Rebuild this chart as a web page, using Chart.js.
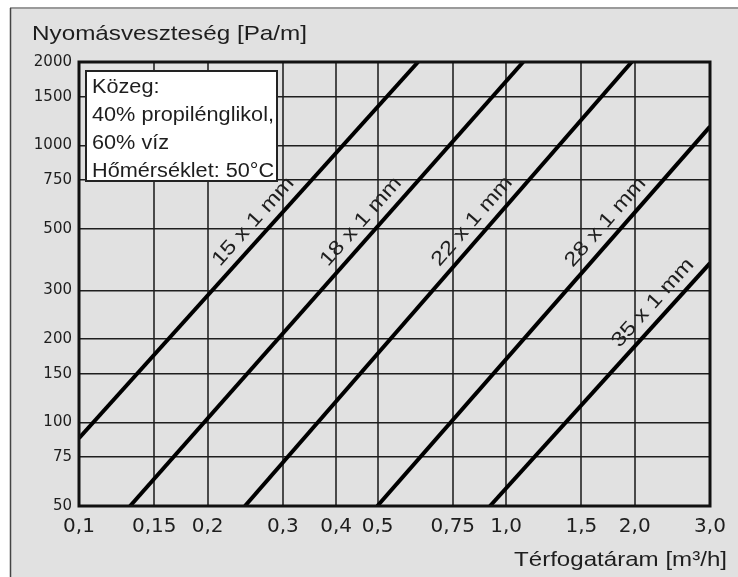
<!DOCTYPE html>
<html><head><meta charset="utf-8">
<script src="https://cdn.jsdelivr.net/npm/chart.js@4/dist/chart.umd.min.js"></script>
<style>html,body{margin:0;padding:0;background:#fff}#wrap{width:738px;height:577px;position:relative}canvas{display:block}</style>
</head><body><div id="wrap"><canvas id="c" width="738" height="577"></canvas></div>
<script>
// ---- data ----
const seriesNames = ['15 x 1 mm', '18 x 1 mm', '22 x 1 mm', '28 x 1 mm', '35 x 1 mm'];
const flow15 = [0.1, 0.622];    const loss15 = [87.8, 2000];
const flow18 = [0.1317, 1.096]; const loss18 = [50, 2000];
const flow22 = [0.2446, 1.967]; const loss22 = [50, 2000];
const flow28 = [0.4993, 3.0];   const loss28 = [50, 1169];
const flow35 = [0.9165, 3.0];   const loss35 = [50, 376];
const xTickValues = [0.1, 0.15, 0.2, 0.3, 0.4, 0.5, 0.75, 1.0, 1.5, 2.0, 3.0];
const xTickLabels = ['0,1', '0,15', '0,2', '0,3', '0,4', '0,5', '0,75', '1,0', '1,5', '2,0', '3,0'];
const yTickValues = [50, 75, 100, 150, 200, 300, 500, 750, 1000, 1500, 2000];
const yTickLabels = ['50', '75', '100', '150', '200', '300', '500', '750', '1000', '1500', '2000'];
const yTitle = 'Nyomásveszteség [Pa/m]';
const xTitle = 'Térfogatáram [m³/h]';
const noteLines = ['Közeg:', '40% propilénglikol,', '60% víz', 'Hőmérséklet: 50°C'];

const flows = [flow15, flow18, flow22, flow28, flow35];
const losses = [loss15, loss18, loss22, loss28, loss35];

const FONT = '"Liberation Sans", Arial, sans-serif';
const TXT = '#1e1e1e';

function stretchedText(ctx, text, x, y, size, targetW, align) {
  ctx.save();
  ctx.font = size + 'px ' + FONT;
  const w = ctx.measureText(text).width;
  const sx = targetW ? targetW / w : 1;
  ctx.translate(x, y);
  ctx.scale(sx, 1);
  ctx.fillStyle = TXT;
  ctx.textBaseline = 'alphabetic';
  ctx.textAlign = 'left';
  ctx.fillText(text, align === 'right' ? -w : 0, 0);
  ctx.restore();
}

const decor = {
  id: 'decor',
  beforeDraw(chart) {
    const ctx = chart.ctx;
    ctx.save();
    ctx.fillStyle = '#ffffff';
    ctx.fillRect(0, 0, chart.width, chart.height);
    ctx.fillStyle = '#e1e1e1';
    ctx.fillRect(10, 8, chart.width - 10, chart.height - 8);
    ctx.strokeStyle = '#9a9a9a';
    ctx.lineWidth = 2;
    ctx.beginPath(); ctx.moveTo(10, 8); ctx.lineTo(chart.width, 8); ctx.stroke();
    ctx.strokeStyle = '#444';
    ctx.lineWidth = 1.5;
    ctx.beginPath(); ctx.moveTo(10.5, 8); ctx.lineTo(10.5, chart.height); ctx.stroke();
    ctx.restore();
  },
  afterDatasetsDraw(chart) {
    const ctx = chart.ctx;
    const a = chart.chartArea;
    // plot frame
    ctx.save();
    ctx.strokeStyle = '#111';
    ctx.lineWidth = 3;
    ctx.strokeRect(a.left, a.top, a.right - a.left, a.bottom - a.top);
    // note box
    ctx.fillStyle = '#ffffff';
    ctx.fillRect(86, 71, 191, 110);
    ctx.strokeStyle = '#222';
    ctx.lineWidth = 2;
    ctx.strokeRect(86, 71, 191, 110);
    ctx.font = '20px ' + FONT;
    const sx = 182 / ctx.measureText(noteLines[1]).width;
    const base = [93, 121, 149, 177];
    noteLines.forEach((t, i) => {
      ctx.save();
      ctx.font = '20px ' + FONT;
      ctx.translate(92, base[i]);
      ctx.scale(sx, 1);
      ctx.fillStyle = TXT;
      ctx.fillText(t, 0, 0);
      ctx.restore();
    });
    // line labels
    const fracs = [0.548, 0.617, 0.618, 0.721, 0.793];
    chart.data.datasets.forEach((ds, i) => {
      const pts = chart.getDatasetMeta(i).data;
      const p0 = pts[0], p1 = pts[1];
      const f = fracs[i];
      const x = p0.x + (p1.x - p0.x) * f;
      const y = p0.y + (p1.y - p0.y) * f;
      const ang = Math.atan2(p1.y - p0.y, p1.x - p0.x);
      ctx.save();
      ctx.translate(x, y);
      ctx.rotate(ang);
      ctx.scale(1.2, 1);
      ctx.font = '20px ' + FONT;
      ctx.fillStyle = TXT;
      ctx.textAlign = 'center';
      ctx.textBaseline = 'alphabetic';
      ctx.fillText(ds.label, 0, -10);
      ctx.restore();
    });
    ctx.restore();
  },
  afterDraw(chart) {
    const ctx = chart.ctx;
    stretchedText(ctx, yTitle, 32, 40, 21, 275, 'left');
    stretchedText(ctx, xTitle, 727, 566, 21, 213, 'right');
  }
};

const datasets = seriesNames.map((name, i) => ({
  label: name,
  data: flows[i].map((q, k) => ({ x: q, y: losses[i][k] })),
  borderColor: '#000',
  borderWidth: 4,
  pointRadius: 0,
  tension: 0,
  fill: false
}));

new Chart(document.getElementById('c'), {
  type: 'line',
  data: { datasets },
  options: {
    responsive: false,
    animation: false,
    devicePixelRatio: 1,
    layout: { padding: { left: 0, top: 62, right: 28, bottom: 0 } },
    plugins: { legend: { display: false }, tooltip: { enabled: false } },
    scales: {
      x: {
        type: 'logarithmic', min: 0.1, max: 3.0,
        afterBuildTicks: s => { s.ticks = xTickValues.map(v => ({ value: v })); },
        afterFit: s => { s.height = 71; },
        ticks: {
          autoSkip: false, maxRotation: 0, minRotation: 0, padding: 9, color: TXT,
          font: { family: 'DejaVu Sans', size: 20 },
          callback: (v) => xTickLabels[xTickValues.findIndex(t => Math.abs(t - v) < 1e-9)]
        },
        grid: { color: '#4a4a4a', lineWidth: 2, drawTicks: false },
        border: { display: false }
      },
      y: {
        type: 'logarithmic', min: 50, max: 2000,
        afterBuildTicks: s => { s.ticks = yTickValues.map(v => ({ value: v })); },
        afterFit: s => { s.width = 79; },
        ticks: {
          autoSkip: false, padding: 7, color: TXT,
          font: { family: 'DejaVu Sans', size: 15 },
          callback: (v) => yTickLabels[yTickValues.findIndex(t => Math.abs(t - v) < 1e-9)]
        },
        grid: { color: '#1e1e1e', lineWidth: 1.5, drawTicks: false },
        border: { display: false }
      }
    }
  },
  plugins: [decor]
});
</script>
</body></html>
